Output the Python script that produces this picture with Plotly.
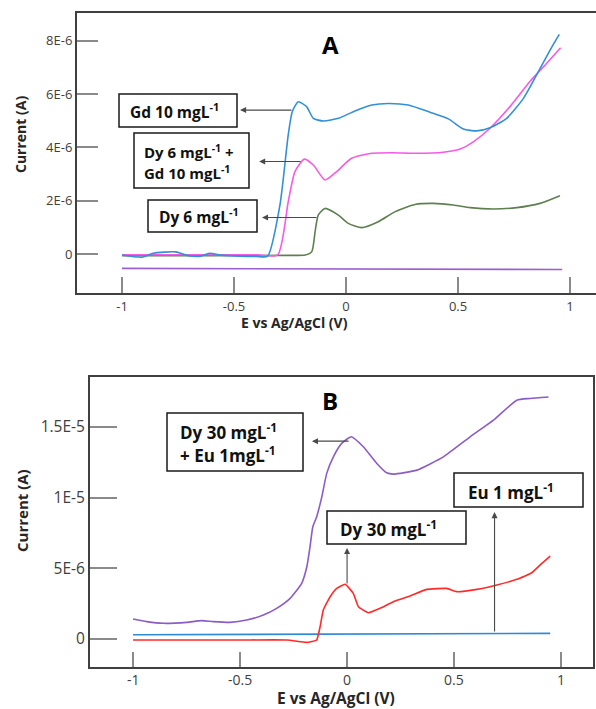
import plotly.graph_objects as go

# ---------------- data (currents in microamps, scaled below) ----------------
A_blue_x = [-1.0, -0.91, -0.86, -0.76, -0.71, -0.65, -0.61, -0.56, -0.47, -0.40, -0.35, -0.295, -0.258, -0.24,
            -0.213, -0.176, -0.146, -0.101, -0.034, 0.04, 0.115, 0.189, 0.278, 0.375, 0.457, 0.524,
            0.583, 0.643, 0.717, 0.792, 0.851, 0.911, 0.952]
A_blue_y = [-0.04, -0.12, 0.03, 0.08, -0.05, -0.08, 0.03, -0.04, -0.08, -0.09, -0.08, 1.84, 4.47, 5.34,
            5.71, 5.53, 5.09, 4.99, 5.09, 5.37, 5.59, 5.65, 5.59, 5.32, 5.07, 4.69,
            4.62, 4.74, 5.09, 5.84, 6.72, 7.65, 8.24]
A_pink_x = [-1.0, -0.65, -0.40, -0.305, -0.258, -0.228, -0.186, -0.146, -0.094, -0.042, 0.025, 0.115, 0.21,
            0.308, 0.434, 0.509, 0.568, 0.643, 0.732, 0.821, 0.896, 0.958]
A_pink_y = [-0.03, -0.03, -0.03, -0.03, 1.96, 3.09, 3.56, 3.34, 2.78, 3.09, 3.59, 3.78, 3.80,
            3.78, 3.82, 3.94, 4.21, 4.72, 5.53, 6.47, 7.16, 7.74]
A_green_x = [-1.0, -0.6, -0.25, -0.183, -0.153, -0.138, -0.124, -0.094, -0.034, 0.01, 0.07, 0.144, 0.219,
             0.308, 0.39, 0.479, 0.554, 0.658, 0.762, 0.866, 0.955]
A_green_y = [-0.06, -0.06, -0.05, -0.04, 0.09, 0.84, 1.46, 1.71, 1.46, 1.15, 0.99, 1.21, 1.59,
             1.86, 1.90, 1.84, 1.74, 1.69, 1.74, 1.90, 2.19]
A_purple_x = [-1.0, 0.965]
A_purple_y = [-0.54, -0.58]

B_purple_x = [-1.0, -0.936, -0.858, -0.749, -0.679, -0.625, -0.547, -0.469, -0.391, -0.329,
              -0.266, -0.212, -0.188, -0.173, -0.16, -0.142, -0.118, -0.095, -0.064, -0.025,
              0.02, 0.076, 0.139, 0.185, 0.216, 0.326, 0.45, 0.575, 0.684, 0.793, 0.855, 0.941]
B_purple_y = [1.41, 1.23, 1.11, 1.18, 1.30, 1.23, 1.18, 1.34, 1.70, 2.17,
              2.88, 3.94, 5.11, 6.53, 7.94, 8.65, 10.06, 11.72, 12.89, 13.84,
              14.31, 13.6, 12.42, 11.76, 11.67, 11.95, 12.89, 14.31, 15.49, 16.9, 17.02, 17.13]
B_red_x = [-1.0, -0.5, -0.282, -0.22, -0.188, -0.142, -0.126, -0.111, -0.079, -0.048,
           -0.009, 0.029, 0.053, 0.1, 0.154, 0.216, 0.294, 0.372, 0.466, 0.512,
           0.606, 0.70, 0.793, 0.863, 0.91, 0.949]
B_red_y = [-0.07, -0.07, -0.07, -0.19, -0.24, -0.07, 0.87, 2.05, 2.99, 3.58,
           3.87, 3.23, 2.28, 1.86, 2.17, 2.64, 3.04, 3.51, 3.58, 3.35,
           3.51, 3.82, 4.22, 4.69, 5.35, 5.87]
B_blue_x = [-1.0, 0.949]
B_blue_y = [0.30, 0.40]

UNIT = 1e-6
x_tickvals = [-1, -0.5, 0, 0.5, 1]
x_ticktext = ["-1", "-0.5", "0", "0.5", "1"]
A_y_tickvals = [0, 2e-6, 4e-6, 6e-6, 8e-6]
A_y_ticktext = ["0", "2E-6", "4E-6", "6E-6", "8E-6"]
B_y_tickvals = [0, 5e-6, 1e-5, 1.5e-5]
B_y_ticktext = ["0", "5E-6", "1E-5", "1.5E-5"]

A_labels = ["Gd 10 mgL<sup>-1</sup>", ["Dy 6 mgL<sup>-1</sup> +", "Gd 10 mgL<sup>-1</sup>"], "Dy 6 mgL<sup>-1</sup>"]
B_labels = [["Dy 30 mgL<sup>-1</sup>", "+ Eu 1mgL<sup>-1</sup>"], "Dy 30 mgL<sup>-1</sup>", "Eu 1 mgL<sup>-1</sup>"]

# ---------------- layout helpers ----------------
W, H = 596, 709
FONT = "'Open Sans', Lato, sans-serif"


def px(xp):
    return xp / W


def py(yp):
    return 1 - yp / H


def sc(vals):
    return [v * UNIT for v in vals]


fig = go.Figure()
line_w = 1.6
fig.add_trace(go.Scatter(x=A_purple_x, y=sc(A_purple_y), mode="lines", line=dict(color="#9b5fcf", width=line_w),
                         xaxis="x", yaxis="y", showlegend=False))
fig.add_trace(go.Scatter(x=A_green_x, y=sc(A_green_y), mode="lines", line=dict(color="#5e7f50", width=line_w, shape="spline", smoothing=0.6),
                         xaxis="x", yaxis="y", showlegend=False))
fig.add_trace(go.Scatter(x=A_pink_x, y=sc(A_pink_y), mode="lines", line=dict(color="#f55ae8", width=line_w, shape="spline", smoothing=0.6),
                         xaxis="x", yaxis="y", showlegend=False))
fig.add_trace(go.Scatter(x=A_blue_x, y=sc(A_blue_y), mode="lines", line=dict(color="#3490d6", width=line_w, shape="spline", smoothing=0.6),
                         xaxis="x", yaxis="y", showlegend=False))

fig.add_trace(go.Scatter(x=B_blue_x, y=sc(B_blue_y), mode="lines", line=dict(color="#2f8ad6", width=line_w),
                         xaxis="x2", yaxis="y2", showlegend=False))
fig.add_trace(go.Scatter(x=B_red_x, y=sc(B_red_y), mode="lines", line=dict(color="#ff2b2b", width=line_w, shape="spline", smoothing=0.4),
                         xaxis="x2", yaxis="y2", showlegend=False))
fig.add_trace(go.Scatter(x=B_purple_x, y=sc(B_purple_y), mode="lines", line=dict(color="#8c5cc6", width=line_w, shape="spline", smoothing=0.5),
                         xaxis="x2", yaxis="y2", showlegend=False))

axis_common = dict(showgrid=False, zeroline=False, showline=True, linecolor="#404040", linewidth=2,
                   ticks="inside", tickcolor="#8a8a8a", tickwidth=1.5, fixedrange=True)

fig.update_layout(
    width=W, height=H, autosize=False,
    margin=dict(l=0, r=0, t=0, b=0),
    paper_bgcolor="white", plot_bgcolor="white",
    font=dict(family=FONT, color="#404040"),
    xaxis=dict(domain=[px(77), 1.0], range=[-1.201, 1.116], anchor="y", mirror=True,
               tickvals=x_tickvals, ticktext=x_ticktext, ticklen=16,
               tickfont=dict(size=13, color="#404040"), **axis_common),
    yaxis=dict(domain=[py(293), py(13)], range=[-1.463 * UNIT, 9.043 * UNIT], anchor="x", mirror=False,
               tickvals=A_y_tickvals, ticktext=A_y_ticktext, ticklen=21,
               tickfont=dict(size=13, color="#404040"), **axis_common),
    xaxis2=dict(domain=[px(90), px(593)], range=[-1.201, 1.149], anchor="y2", mirror=True,
                tickvals=x_tickvals, ticktext=x_ticktext, ticklen=15, showticklabels=False,
                **axis_common),
    yaxis2=dict(domain=[py(667), py(377)], range=[-1.981 * UNIT, 18.54 * UNIT], anchor="x2", mirror=True,
                tickvals=B_y_tickvals, ticktext=B_y_ticktext, ticklen=27,
                tickfont=dict(size=15.5, color="#404040"), **axis_common),
)

shapes = []
annotations = []


def add_box(x0, y0, x1, y1):
    shapes.append(dict(type="rect", xref="paper", yref="paper", x0=px(x0), x1=px(x1), y0=py(y1), y1=py(y0),
                       line=dict(color="#1a1a1a", width=1.5), fillcolor="white", layer="above"))


def add_text(text, xl, yc, size, anchor="left", angle=0, color="#111111"):
    annotations.append(dict(text=text, xref="paper", yref="paper", x=px(xl), y=py(yc), xanchor=anchor,
                            yanchor="middle", showarrow=False, textangle=angle, align="left",
                            font=dict(family=FONT, size=size, color=color)))


def add_arrow(xr, yr, hx, hy, tx, ty):
    annotations.append(dict(text="", xref=xr, yref=yr, axref=xr, ayref=yr, x=hx, y=hy, ax=tx, ay=ty,
                            showarrow=True, arrowhead=2, arrowsize=1.1, arrowwidth=1.1,
                            arrowcolor="#4a4a4a", standoff=0, startstandoff=0))


# Panel A boxes and labels
add_box(119, 94, 237, 127)
add_text("<b>" + A_labels[0] + "</b>", 128, 111, 15.5)
add_box(134, 133, 249, 188)
add_text("<b>" + A_labels[1][0] + "</b>", 142, 151, 15)
add_text("<b>" + A_labels[1][1] + "</b>", 142, 172, 15)
add_box(148, 200, 257, 232)
add_text("<b>" + A_labels[2] + "</b>", 157, 216, 15.5)
add_arrow("x", "y", -0.473, 5.40 * UNIT, -0.237, 5.40 * UNIT)
add_arrow("x", "y", -0.388, 3.47 * UNIT, -0.196, 3.47 * UNIT)
add_arrow("x", "y", -0.375, 1.37 * UNIT, -0.125, 1.37 * UNIT)
add_text("<b>A</b>", 330, 44, 24, anchor="center", color="#000000")
add_text("<b>Current (A)</b>", 20, 135, 14, anchor="center", angle=-90, color="#262626")
add_text("<b>E vs Ag/AgCl (V)</b>", 294, 323, 14, anchor="center", color="#262626")

# Panel B x tick labels (placed on the x2 scale, slightly closer to the axis as in the original)
for v, t in zip(x_tickvals, x_ticktext):
    annotations.append(dict(text=t, xref="x2", yref="paper", x=v, y=py(679), xanchor="center", yanchor="middle",
                            showarrow=False, font=dict(family=FONT, size=14, color="#404040")))

# Panel B boxes and labels
add_box(167, 413, 303, 471)
add_text("<b>" + B_labels[0][0] + "</b>", 178, 431, 17)
add_text("<b>" + B_labels[0][1] + "</b>", 178, 454, 17)
add_box(327, 511, 466, 544)
add_text("<b>" + B_labels[1] + "</b>", 338, 528, 17)
add_box(454, 473, 583, 507)
add_text("<b>" + B_labels[2] + "</b>", 466, 491, 17)
add_arrow("x2", "y2", -0.164, 14.0 * UNIT, 0.014, 14.0 * UNIT)
add_arrow("x2", "y2", 0.0, 6.44 * UNIT, 0.0, 3.82 * UNIT)
add_arrow("x2", "y2", 0.689, 8.98 * UNIT, 0.689, 0.42 * UNIT)
add_text("<b>B</b>", 330, 400, 24, anchor="center", color="#000000")
add_text("<b>Current (A)</b>", 22, 511, 15, anchor="center", angle=-90, color="#262626")
add_text("<b>E vs Ag/AgCl (V)</b>", 336, 698, 15.5, anchor="center", color="#262626")

fig.update_layout(shapes=shapes, annotations=annotations)
fig.write_html("out.html")
